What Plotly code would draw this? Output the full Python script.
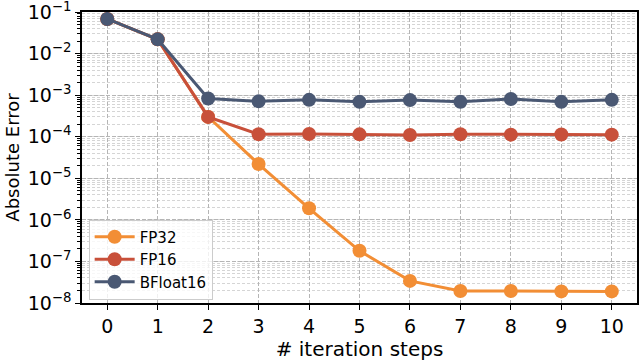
import plotly.graph_objects as go

steps = [0, 1, 2, 3, 4, 5, 6, 7, 8, 9, 10]
fp32 = [6.8e-2, 2.2e-2, 3.0e-4, 2.2e-5, 1.9e-6, 1.8e-7, 3.4e-8, 1.95e-8, 1.95e-8, 1.9e-8, 1.9e-8]
fp16 = [6.8e-2, 2.2e-2, 3.0e-4, 1.15e-4, 1.16e-4, 1.14e-4, 1.1e-4, 1.15e-4, 1.12e-4, 1.13e-4, 1.12e-4]
bf16 = [6.8e-2, 2.2e-2, 8.3e-4, 7.1e-4, 7.7e-4, 6.9e-4, 7.6e-4, 6.9e-4, 8.1e-4, 6.9e-4, 7.7e-4]
ytick_vals = [1e-8, 1e-7, 1e-6, 1e-5, 1e-4, 1e-3, 1e-2, 1e-1]
ytick_text = ["10<sup>−8</sup>", "10<sup>−7</sup>", "10<sup>−6</sup>", "10<sup>−5</sup>",
              "10<sup>−4</sup>", "10<sup>−3</sup>", "10<sup>−2</sup>", "10<sup>−1</sup>"]

series = [("FP32", fp32, "#F28E35"), ("FP16", fp16, "#C8503A"), ("BFloat16", bf16, "#4A5873")]

fig = go.Figure()
for name, vals, col in series:
    fig.add_trace(go.Scatter(x=steps, y=vals, name=name, mode="lines+markers",
                             line=dict(color=col, width=3),
                             marker=dict(color=col, size=14)))

fig.update_layout(
    width=640, height=361,
    plot_bgcolor="white", paper_bgcolor="white",
    margin=dict(l=82, r=3, t=12, b=58),
    font=dict(family="DejaVu Sans", size=19, color="black"),
    legend=dict(x=0.012, y=0.012, xanchor="left", yanchor="bottom",
                bgcolor="rgba(255,255,255,0.8)", bordercolor="#cccccc", borderwidth=1,
                font=dict(size=15), itemwidth=40, tracegroupgap=2),
    showlegend=True,
)
fig.update_xaxes(
    title=dict(text="# iteration steps", font=dict(size=20), standoff=4),
    automargin=False,
    range=[-0.5, 10.5], tickvals=steps, ticks="outside", ticklen=5, tickcolor="black",
    showline=True, linecolor="black", linewidth=1.5, mirror=True,
    showgrid=True, gridcolor="#b5b5b5", griddash="4px,2px", gridwidth=1, zeroline=False,
)
fig.update_yaxes(
    title=dict(text="Absolute Error", font=dict(size=18), standoff=3),
    automargin=False, ticklabeloverflow="allow",
    type="log", range=[-8, -1], tickvals=ytick_vals, ticktext=ytick_text,
    ticks="outside", ticklen=5, tickcolor="black",
    showline=True, linecolor="black", linewidth=1.5, mirror=True,
    showgrid=True, gridcolor="#b5b5b5", griddash="4px,2px", gridwidth=1,
    minor=dict(dtick="D1", ticks="outside", ticklen=3, tickcolor="black",
               showgrid=True, gridcolor="#d5d5d5", griddash="3px,2px", gridwidth=1),
)

# drop the browser's default body margin so the figure sits at the top-left corner
fig.write_html("out.html", config={"displayModeBar": False},
               post_script="document.body.style.margin='0';")
